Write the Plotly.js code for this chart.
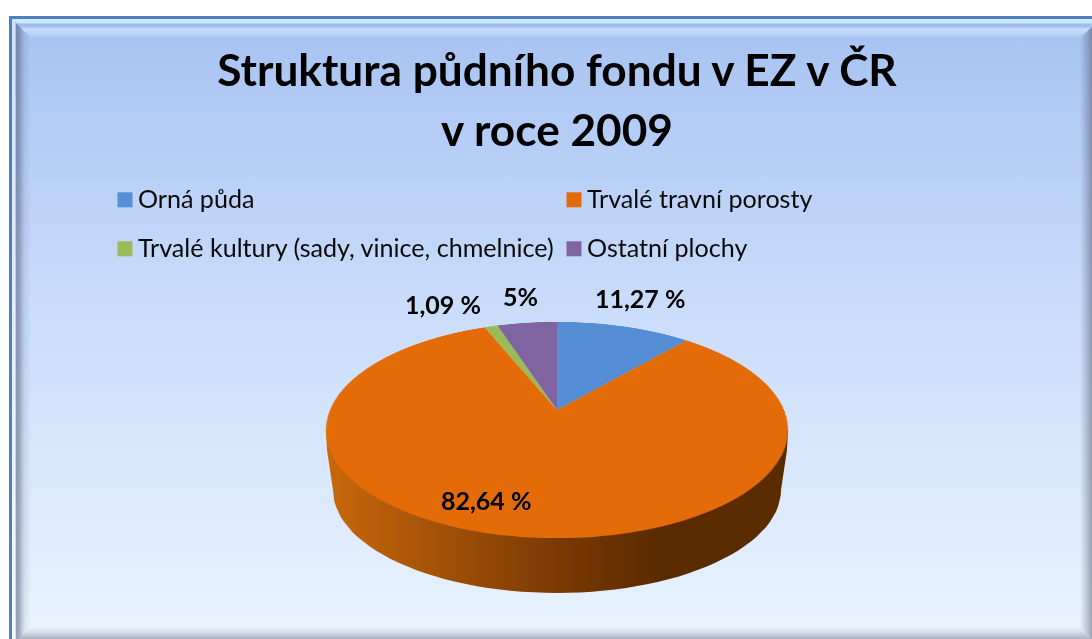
<!DOCTYPE html>
<html>
<head>
<meta charset="utf-8">
<script src="https://cdn.plot.ly/plotly-3.0.1.min.js"></script>
<style>
html,body{margin:0;padding:0;background:#fff;overflow:hidden;width:1092px;height:639px}
#stage{position:relative;width:1092px;height:639px;overflow:hidden}
.abs{position:absolute}
#frame{left:9px;top:16px;width:1083px;height:623px;background:#4f81bd}
#bg{left:12px;top:19px;width:1080px;height:620px;background:linear-gradient(180deg,#a9c4f2 0%,#a9c4f2 3%,#c5d9f9 40%,#eaf4ff 100%)}
#bTop{left:12px;top:19px;width:1080px;height:20px;background:linear-gradient(180deg,#cdeeff 0,#c4e6fd 4px,#9fbcec 5px,#a5c1ef 8px,#c8e0fc 10px,rgba(169,196,242,0) 20px);clip-path:polygon(0 0,100% 0,100% 8px,calc(100% - 12px) 100%,20px 100%)}
#bLeft{left:12px;top:19px;width:20px;height:620px;background:linear-gradient(90deg,rgba(255,255,255,.55) 0,rgba(255,255,255,.45) 3px,rgba(70,80,110,.5) 4.5px,rgba(70,80,110,.45) 7px,rgba(70,80,110,.12) 12px,rgba(0,0,0,0) 19px);clip-path:polygon(0 0,100% 20px,100% calc(100% - 12px),7px 100%,0 100%)}
#bRight{left:1080px;top:19px;width:12px;height:620px;background:linear-gradient(90deg,rgba(60,70,90,0) 0,rgba(60,70,90,.18) 5px,rgba(60,70,90,.45) 12px);clip-path:polygon(0 18px,100% 8px,100% 100%,0 calc(100% - 12px))}
#bBottom{left:12px;top:627px;width:1080px;height:12px;background:linear-gradient(180deg,rgba(60,70,90,0) 0,rgba(60,70,90,.14) 6px,rgba(60,70,90,.38) 12px);clip-path:polygon(7px 100%,20px 0,calc(100% - 12px) 0,100% 100%)}
#wall,#chart{position:absolute;left:0;top:0;width:1092px;height:639px}
</style>
</head>
<body>
<div id="stage">
  <div id="frame" class="abs"></div>
  <div id="bg" class="abs"></div>
  <div id="bTop" class="abs"></div>
  <div id="bLeft" class="abs"></div>
  <div id="bRight" class="abs"></div>
  <div id="bBottom" class="abs"></div>
  <div id="wall"></div>
  <div id="chart"></div>
</div>
<script>
// --- data ---
var categories = ['Orná půda', 'Trvalé travní porosty', 'Trvalé kultury (sady, vinice, chmelnice)', 'Ostatní plochy'];
var shares = [11.27, 82.64, 1.09, 5];
var shareLabels = ['11,27 %', '82,64 %', '1,09 %', '5%'];
var sliceColors = ['#558ed5', '#e36c09', '#9bbb59', '#8064a2'];
var titleLines = ['Struktura půdního fondu v EZ v ČR', 'v roce 2009'];
var labelX = [640, 486, 443, 520];
var labelY = [298, 500, 304, 296];

var W = 1092, H = 639, FONT = 'Lato, "Open Sans", sans-serif';

// Disc in the plane of the page; a perspective view tilts it (see below)
var cx = 557, cy = 410, R = 227;

// Side wall of the disc, behind the top face
var wallX = [326, 327, 333], wallY = [430, 450, 490];
for (var k = 1; k < 60; k++) {
  var a = Math.PI * k / 60;
  wallX.push(557 - 224 * Math.cos(a));
  wallY.push(490 + 103 * Math.sin(a));
}
wallX.push(781, 787, 788);
wallY.push(490, 450, 430);

Plotly.newPlot('wall', [{
  type: 'scatter', x: wallX, y: wallY, mode: 'lines', fill: 'toself',
  line: {width: 0, color: 'rgba(0,0,0,0)'},
  fillgradient: {type: 'horizontal', colorscale: [
    [0, '#c9680c'], [0.3, '#9a4c06'], [0.5, '#7a3a03'], [0.72, '#5b2b00'], [1, '#5b2b00']
  ]},
  hoverinfo: 'skip', showlegend: false
}], {
  width: W, height: H, margin: {l: 0, r: 0, t: 0, b: 0},
  paper_bgcolor: 'rgba(0,0,0,0)', plot_bgcolor: 'rgba(0,0,0,0)',
  xaxis: {range: [0, W], visible: false, fixedrange: true},
  yaxis: {range: [H, 0], visible: false, fixedrange: true},
  showlegend: false
}, {displayModeBar: false, staticPlot: true});

var annotations = shareLabels.map(function (t, i) {
  return {
    text: t, xref: 'paper', yref: 'paper', x: labelX[i] / W, y: 1 - labelY[i] / H,
    xanchor: 'center', yanchor: 'middle', showarrow: false,
    font: {family: FONT, size: 25, color: '#000', weight: 700}
  };
});

Plotly.newPlot('chart', [{
  type: 'pie', labels: categories, values: shares, sort: false,
  direction: 'clockwise', rotation: 0, textinfo: 'none', hoverinfo: 'label+percent',
  marker: {colors: sliceColors, line: {width: 0}},
  domain: {x: [(cx - R) / W, (cx + R) / W], y: [1 - (cy + R) / H, 1 - (cy - R) / H]}
}], {
  width: W, height: H, margin: {l: 0, r: 0, t: 0, b: 0},
  paper_bgcolor: 'rgba(0,0,0,0)', plot_bgcolor: 'rgba(0,0,0,0)',
  font: {family: FONT, color: '#0a0a0a'},
  title: {
    text: titleLines.join('<br>'), x: 557 / W, xanchor: 'center', xref: 'paper',
    y: 1 - 86 / H, yanchor: 'top', yref: 'paper',
    font: {family: FONT, size: 44.2, color: '#000', weight: 700}
  },
  showlegend: true,
  legend: {
    orientation: 'h', x: 98 / W, xanchor: 'left', y: 1 - 175 / H, yanchor: 'top',
    entrywidth: 404, entrywidthmode: 'pixels', traceorder: 'normal',
    font: {family: FONT, size: 25.1, color: '#0a0a0a'}, bgcolor: 'rgba(0,0,0,0)', borderwidth: 0
  },
  annotations: annotations
}, {displayModeBar: false, staticPlot: true}).then(function () {
  var gd = document.getElementById('chart');
  // Tilt only the layer holding the pie; title, legend and labels stay flat
  var paper = gd.querySelector('.svg-container svg.main-svg');
  paper.style.transformOrigin = cx + 'px ' + cy + 'px';
  paper.style.transform = 'perspective(1088px) rotateX(62.6deg)';
  // Title: reference line spacing
  var lines = gd.querySelectorAll('.gtitle tspan.line');
  if (lines.length > 1) lines[1].setAttribute('dy', '60px');
  // Legend: larger swatches and the wider row spacing of the reference
  var legend = gd.querySelector('.legend');
  legend.querySelectorAll('.legendpoints path').forEach(function (p) {
    p.setAttribute('d', 'M14.5,9.5H-0.5V-5.5H14.5Z');
  });
  var box = legend.querySelector('.scrollbox');
  if (box) box.removeAttribute('clip-path');
  legend.removeAttribute('clip-path');
  var seen = [];
  legend.querySelectorAll('.traces').forEach(function (t) {
    var m = /translate\(([-\d.]+),\s*([-\d.]+)\)/.exec(t.getAttribute('transform') || '');
    if (!m) return;
    var y = parseFloat(m[2]);
    if (seen.indexOf(y) < 0) seen.push(y);
    t.setAttribute('transform', 'translate(' + m[1] + ',' + (seen[0] + seen.indexOf(y) * 49) + ')');
  });
});
</script>
</body>
</html>
